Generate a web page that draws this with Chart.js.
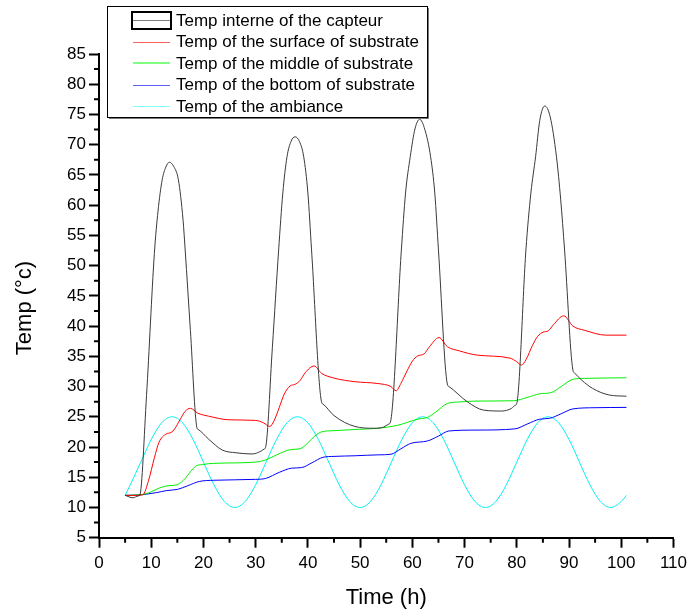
<!DOCTYPE html>
<html lang="en">
<head>
<meta charset="UTF-8">
<title>Temp of the capteur and substrate</title>
<script src="https://cdn.jsdelivr.net/npm/chart.js"></script>
<style>
  body { margin: 0; background: #fff; }
</style>
</head>
<body>
<canvas id="tempChart" width="692" height="611"></canvas>
<script>
// time (h) and temperature (°C) of each curve
const capteurTime = [5, 6.5, 7.5, 7.8, 9.1, 10.6, 11.3, 12.1, 12.8, 13.5, 14.3, 15.2, 16.1, 16.5, 17.5, 18.75, 19.0, 21.0, 23.6, 26.2, 29.3, 31.0,
  31.6, 31.9, 33.2, 34.4, 35.2, 36.0, 36.8, 37.55, 38.4, 39.2, 40.0, 40.7, 42.6, 42.9, 45.0, 49.0, 52.75, 54.5,
  55.5, 55.8, 57.9, 58.7, 59.6, 60.5, 61.4, 62.4, 63.5, 64.3, 65.0, 66.7, 67.0, 70.5, 73.65, 77.1, 79.0,
  79.7, 80.0, 81.75, 82.7, 83.6, 84.4, 85.35, 86.4, 87.6, 88.4, 89.15, 90.75, 91.0, 92.5, 94.5, 97.7, 101];
const capteurTemp = [12, 11.6, 11.9, 12.0, 28.5, 52.0, 59.0, 64.2, 66.3, 67.1, 66.4, 64.2, 57.5, 52.6, 39.3, 23.2, 22.9, 21.3, 19.5, 19.05, 18.85, 19.3,
  19.65, 19.95, 36.5, 52.6, 62.0, 68.0, 70.6, 71.3, 70.5, 68.0, 62.0, 52.6, 27.5, 27.1, 25.2, 23.4, 23.1, 23.3,
  23.8, 24.1, 52.6, 62.0, 68.0, 72.6, 74.2, 72.5, 68.0, 62.0, 52.6, 30.4, 30.0, 27.5, 26.1, 25.95, 26.4,
  26.9, 27.2, 52.6, 62.0, 68.0, 74.0, 76.4, 74.6, 68.0, 61.0, 52.6, 32.7, 32.3, 31.0, 29.7, 28.6, 28.4];

const surfaceTime = [5, 7, 8.4, 9.5, 10.6, 11.5, 12.85, 13.8, 14.5, 15.5, 16.5, 17.5, 18.9, 21, 24.9, 29.95, 31.5, 32.7,
  33.5, 34.5, 35.5, 36.6, 37.5, 38.5, 39.5, 41.2, 42.6, 45, 49, 53.4, 55.9, 56.9,
  57.8, 59, 60, 61, 62.25, 63.3, 65.1, 66.7, 69, 72.4, 78.7, 80, 80.9,
  81.8, 83, 84, 85.05, 86, 87, 89, 90.75, 93, 97.1, 101];
const surfaceTemp = [12, 12.0, 12.1, 14.5, 18.2, 20.8, 22.15, 22.4, 23.0, 24.5, 25.9, 26.4, 25.6, 25.1, 24.5, 24.4, 24.0, 23.4,
  24.3, 26.5, 28.8, 30.1, 30.35, 31.0, 32.3, 33.4, 32.2, 31.4, 30.8, 30.5, 30.0, 29.3,
  30.5, 32.6, 34.2, 35.05, 35.4, 36.6, 38.1, 36.6, 35.9, 35.2, 34.7, 34.1, 33.55,
  34.5, 36.8, 38.3, 39.0, 39.2, 40.2, 41.7, 40.0, 39.3, 38.5, 38.5];

const middleTime = [5, 8, 10, 11.5, 12.85, 15.07, 16.5, 17.5, 18.55, 19.8, 22, 29.95, 31.9, 34, 36.9, 38.5, 40, 41.3, 42.6,
  45, 49, 53.4, 57.2, 61, 62.9, 64.5, 66.7, 69, 72.4, 79.35, 82, 84.4, 86.6, 88.5, 90.75, 93, 101];
const middleTemp = [12, 12.1, 12.6, 13.2, 13.55, 13.8, 14.8, 15.9, 16.85, 17.1, 17.3, 17.5, 17.85, 18.7, 19.6, 19.7, 20.7, 21.8, 22.5,
  22.7, 22.9, 23.1, 23.6, 24.6, 24.9, 25.8, 27.2, 27.45, 27.6, 27.65, 28.2, 28.8, 29.0, 30.0, 31.2, 31.35, 31.45];

const bottomTime = [5, 8, 10.96, 13, 15.07, 17, 19.2, 22, 29.95, 31.9, 34.5, 36.9, 38.8, 40.8, 42.9, 45, 49, 53.4, 55.9,
  57.8, 59.7, 62.9, 65, 67, 72.4, 79.65, 82, 84.4, 86.3, 88.5, 90.75, 95, 101];
const bottomTemp = [12, 12.1, 12.45, 12.8, 13.0, 13.6, 14.3, 14.5, 14.65, 14.8, 15.8, 16.5, 16.6, 17.4, 18.3, 18.45, 18.55, 18.7, 18.8,
  19.7, 20.6, 21.0, 21.8, 22.65, 22.8, 23.0, 23.8, 24.6, 24.75, 25.5, 26.3, 26.5, 26.55];

const ambianceTime = [5, 6, 8, 10, 12, 14, 16, 18, 20, 22, 24, 26, 28, 30, 32, 34, 36, 38, 40, 42, 44, 46, 48, 50, 52, 54,
  56, 58, 60, 62, 64, 66, 68, 70, 72, 74, 76, 78, 80, 82, 84, 86, 88, 90, 92, 94, 96, 98, 100, 101];
const ambianceTemp = [12, 13.75, 17.5, 21.25, 24, 25, 24, 21.25, 17.5, 13.75, 11, 10, 11, 13.75, 17.5, 21.25, 24, 25, 24, 21.25, 17.5, 13.75, 11, 10, 11, 13.75,
  17.5, 21.25, 24, 25, 24, 21.25, 17.5, 13.75, 11, 10, 11, 13.75, 17.5, 21.25, 24, 25, 24, 21.25, 17.5, 13.75, 11, 10, 11, 12];

const seriesNames = ['Temp interne of the capteur', 'Temp of the surface of substrate', 'Temp of the middle of substrate',
  'Temp of the bottom of substrate', 'Temp of the ambiance'];
const seriesColors = ['#3a3a3a', '#ff0000', '#00ee00', '#0000ff', '#00f0f0'];
const legendColors = ['#808080', '#ff6060', '#80ff80', '#6060ff', '#80ffff'];

const xTicks = [0, 10, 20, 30, 40, 50, 60, 70, 80, 90, 100, 110];
const yTicks = [5, 10, 15, 20, 25, 30, 35, 40, 45, 50, 55, 60, 65, 70, 75, 80, 85];

const FONT = 'Arial, "Liberation Sans", sans-serif';

function toPoints(times, temps) {
  return times.map((t, i) => ({ x: t, y: temps[i] }));
}

const allSeries = [
  [capteurTime, capteurTemp],
  [surfaceTime, surfaceTemp],
  [middleTime, middleTemp],
  [bottomTime, bottomTemp],
  [ambianceTime, ambianceTemp]
];

const datasets = allSeries.map((s, i) => ({
  label: seriesNames[i],
  data: toPoints(s[0], s[1]),
  borderColor: seriesColors[i],
  borderWidth: 1,
  pointRadius: 0,
  fill: false,
  cubicInterpolationMode: 'monotone'
}));

// minor ticks halfway between the labelled ones, plus the axis titles
const axisExtras = {
  id: 'axisExtras',
  afterDraw(chart) {
    const ctx = chart.ctx;
    const xs = chart.scales.x, ys = chart.scales.y;
    const area = chart.chartArea;
    ctx.save();
    ctx.strokeStyle = '#000';
    ctx.lineWidth = 2;
    ctx.beginPath();
    for (let i = 0; i < xTicks.length - 1; i++) {
      const px = xs.getPixelForValue((xTicks[i] + xTicks[i + 1]) / 2);
      ctx.moveTo(px, area.bottom);
      ctx.lineTo(px, area.bottom + 5);
    }
    for (let i = 0; i < yTicks.length - 1; i++) {
      const py = ys.getPixelForValue((yTicks[i] + yTicks[i + 1]) / 2);
      ctx.moveTo(area.left, py);
      ctx.lineTo(area.left - 5, py);
    }
    ctx.stroke();

    ctx.fillStyle = '#000';
    ctx.font = '22px ' + FONT;
    ctx.textAlign = 'center';
    ctx.textBaseline = 'alphabetic';
    ctx.fillText('Time (h)', (area.left + area.right) / 2, 604);
    ctx.translate(31, 308);
    ctx.rotate(-Math.PI / 2);
    ctx.fillText('Temp (°c)', 0, 0);
    ctx.restore();
  }
};

// framed legend in the upper left
const legendBox = {
  id: 'legendBox',
  afterDraw(chart) {
    const ctx = chart.ctx;
    ctx.save();
    ctx.fillStyle = '#fff';
    ctx.fillRect(107, 6, 320, 111);
    ctx.strokeStyle = '#000';
    ctx.lineWidth = 1;
    ctx.strokeRect(107.5, 6.5, 320, 111);
    ctx.strokeStyle = '#777';
    ctx.beginPath();
    ctx.moveTo(109, 118.5);
    ctx.lineTo(428.5, 118.5);
    ctx.lineTo(428.5, 8);
    ctx.stroke();

    ctx.font = '17px ' + FONT;
    ctx.textBaseline = 'middle';
    ctx.textAlign = 'left';
    chart.data.datasets.forEach((ds, i) => {
      const y = 20 + i * 21.5;
      if (i === 0) {
        ctx.strokeStyle = '#000';
        ctx.lineWidth = 2;
        ctx.strokeRect(132, 12, 39, 17);
      }
      ctx.strokeStyle = legendColors[i];
      ctx.lineWidth = i === 2 ? 2 : 1;
      ctx.beginPath();
      ctx.moveTo(133, Math.round(y) + (i === 2 ? 0 : 0.5));
      ctx.lineTo(170, Math.round(y) + (i === 2 ? 0 : 0.5));
      ctx.stroke();
      ctx.fillStyle = '#000';
      ctx.fillText(ds.label, 176, y + 1);
    });
    ctx.restore();
  }
};

const ctx = document.getElementById('tempChart').getContext('2d');
const tempChart = new Chart(ctx, {
  type: 'line',
  data: { datasets: datasets },
  options: {
    responsive: false,
    animation: false,
    layout: { padding: { top: 54, right: 14, left: 0, bottom: 0 } },
    plugins: {
      legend: { display: false },
      tooltip: { enabled: false }
    },
    scales: {
      x: {
        type: 'linear',
        min: 0,
        max: 110,
        afterFit: (scale) => { scale.height = 73.3; },
        afterBuildTicks: (scale) => { scale.ticks = xTicks.map(v => ({ value: v })); },
        ticks: { color: '#000', font: { size: 17, family: FONT }, padding: 5, maxRotation: 0 },
        grid: { drawOnChartArea: false, drawTicks: true, tickLength: 10, tickColor: '#000', tickWidth: 2 },
        border: { display: true, color: '#000', width: 2 }
      },
      y: {
        type: 'linear',
        min: 5,
        max: 85,
        afterFit: (scale) => { scale.width = 99; },
        afterBuildTicks: (scale) => { scale.ticks = yTicks.map(v => ({ value: v })); },
        ticks: { color: '#000', font: { size: 17, family: FONT }, padding: 3 },
        grid: { drawOnChartArea: false, drawTicks: true, tickLength: 10, tickColor: '#000', tickWidth: 2 },
        border: { display: true, color: '#000', width: 2 }
      }
    }
  },
  plugins: [axisExtras, legendBox]
});
</script>
</body>
</html>
